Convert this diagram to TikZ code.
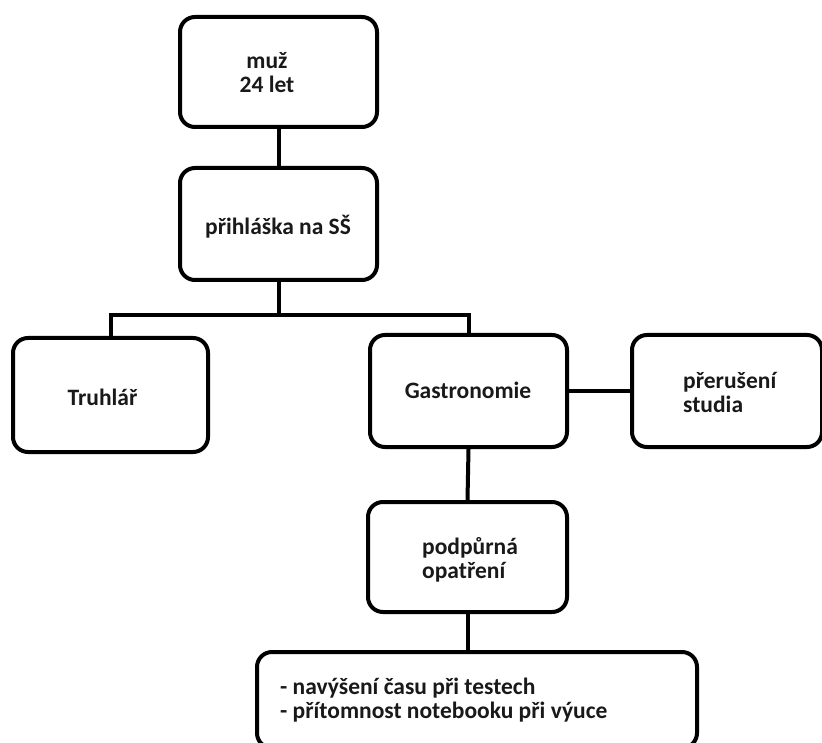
\documentclass[tikz,border=0pt]{standalone}
\usepackage{fontspec}
\setmainfont{Carlito}
\begin{document}
\begin{tikzpicture}[x=1pt,y=-1pt,
  box/.style={draw=black,line width=4pt,rounded corners=15pt,inner sep=0pt,fill=white},
  conn/.style={draw=black,line width=4pt},
  lbl/.style={inner sep=0pt,font=\bfseries\fontsize{23.5}{24}\selectfont,text=black!90}]
\useasboundingbox[fill=white] (0,0) rectangle (822,743);
% boxes
\node[box,minimum width=197pt,minimum height=110pt] (muz) at (278.5,72) {};
\node[box,minimum width=197pt,minimum height=112pt] (prih) at (278.5,224) {};
\node[box,minimum width=195pt,minimum height=114pt] (tru) at (110.5,395) {};
\node[box,minimum width=197pt,minimum height=112pt] (gas) at (468.5,391) {};
\node[box,minimum width=190pt,minimum height=112pt] (prer) at (727,391) {};
\node[box,minimum width=199pt,minimum height=110pt] (pod) at (467.5,557) {};
\node[box,minimum width=440pt,minimum height=96pt] (opt) at (477,700) {};
% connectors
\draw[conn] (muz.south) -- (prih.north);
\draw[conn] (prih.south) -- ++(0,33) coordinate (j);
\draw[conn] (tru.north) |- (j) -| (gas.north);
\draw[conn] (gas.east) -- (prer.west);
\draw[conn] (gas.south) -- (pod.north);
\draw[conn] (pod.south) -- (pod.south |- opt.north);
% labels (base = baseline of last line)
\node[lbl,align=center,anchor=base] (tmuz) at (267,93) {muž\\24 let};
\node[lbl,anchor=base] (tprih) at (278,235) {přihláška na SŠ};
\node[lbl,anchor=base] (ttru) at (102.5,405) {Truhlář};
\node[lbl,anchor=base] (tgas) at (468,398) {Gastronomie};
\node[lbl,align=left,anchor=base west] (tprer) at (683,412) {přerušení\\studia};
\node[lbl,align=left,anchor=base west] (tpod) at (422,578) {podpůrná\\opatření};
\node[lbl,align=left,anchor=base west] (topt) at (280,718) {- navýšení času při testech\\- přítomnost notebooku při výuce};
\end{tikzpicture}
\end{document}
